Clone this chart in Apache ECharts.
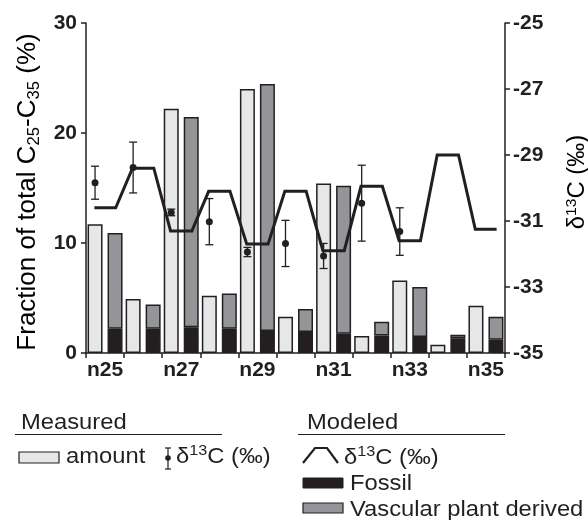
<!DOCTYPE html>
<html>
<head>
<meta charset="utf-8">
<script src="https://cdn.jsdelivr.net/npm/echarts@6/dist/echarts.min.js"></script>
<style>
html,body{margin:0;padding:0;background:#fff;}
#chart{width:588px;height:520px;}
</style>
</head>
<body>
<div id="chart"></div>
<script>
// ---- data ----
const categories = ['n25','n26','n27','n28','n29','n30','n31','n32','n33','n34','n35'];
const measuredAmount = [11.7, 4.9, 22.2, 5.2, 24.0, 3.3, 15.4, 1.55, 6.6, 0.75, 4.3];
const modeledFossil = [2.2, 2.2, 2.35, 2.2, 2.0, 1.9, 1.75, 1.6, 1.45, 1.35, 1.2];
const modeledVascular = [8.7, 2.2, 19.1, 3.2, 22.45, 2.1, 13.45, 1.25, 4.55, 0.3, 2.1];
const modeledD13C = [-30.6, -29.4, -31.3, -30.1, -31.7, -30.1, -31.9, -29.95, -31.6, -29.0, -31.25];
const measuredD13C = [-29.84, -29.38, -30.74, -31.02, -31.94, -31.68, -32.06, -30.46, -31.32, null, null];
const measuredD13CErr = [0.5, 0.77, 0.1, 0.7, 0.14, 0.7, 0.38, 1.15, 0.72, null, null];
const leftAxis = {min: 0, max: 30, interval: 10};
const rightAxis = {min: -35, max: -25, interval: 2};

// ---- styles ----
const FONT = 'Liberation Sans, Arial, sans-serif';
const INK = '#231f20';
const LIGHT = '#e6e7e8';
const GRAY = '#939598';
const BAR_W = 15;
const BAR_GAP_PX = 5;
const FLAT_HALF = 0.28;

const chart = echarts.init(document.getElementById('chart'), null, {renderer: 'canvas'});

const lineData = [];
modeledD13C.forEach((v, i) => {
  lineData.push([i + 0.5 - FLAT_HALF, v]);
  lineData.push([i + 0.5 + FLAT_HALF, v]);
});
const errData = [];
measuredD13C.forEach((v, i) => {
  if (v != null) errData.push([i, v, measuredD13CErr[i]]);
});

const barStyle = (c) => ({color: c, borderColor: INK, borderWidth: 1.5});
const tickLabel = {fontFamily: FONT, fontWeight: 'bold', fontSize: 21, color: INK};

function legendText(x, y, text, rich) {
  return {type: 'text', x: x, y: y, scaleX: 1.08, z: 10,
    style: {text: text, font: '22px ' + FONT, fill: INK,
    align: 'left', verticalAlign: 'middle', rich: rich}};
}
const supRich = {
  m: {fontSize: 22, fontFamily: FONT, color: INK, lineHeight: 26},
  s: {fontSize: 15, fontFamily: FONT, color: INK, lineHeight: 15, verticalAlign: 'top'}
};

const option = {
  animation: false,
  backgroundColor: '#fff',
  grid: {left: 86, right: 83, top: 23, bottom: 167, containLabel: false},
  xAxis: [{
    type: 'category', data: categories, gridIndex: 0,
    axisLine: {lineStyle: {color: INK, width: 1.5}},
    axisTick: {show: true, interval: 0, length: 5, lineStyle: {color: INK, width: 1.5}},
    axisLabel: Object.assign({interval: 1, margin: 7}, tickLabel),
    splitLine: {show: false}
  }, {
    type: 'value', min: 0, max: categories.length, show: false, gridIndex: 0
  }],
  yAxis: [{
    type: 'value', position: 'left', min: leftAxis.min, max: leftAxis.max, interval: leftAxis.interval,
    axisLine: {show: true, lineStyle: {color: INK, width: 1.5}},
    axisTick: {show: true, length: 5, lineStyle: {color: INK, width: 1.5}},
    axisLabel: Object.assign({margin: 9}, tickLabel),
    splitLine: {show: false}
  }, {
    type: 'value', position: 'right', min: rightAxis.min, max: rightAxis.max, interval: rightAxis.interval,
    axisLine: {show: true, lineStyle: {color: INK, width: 1.5}},
    axisTick: {show: true, length: 5, lineStyle: {color: INK, width: 1.5}},
    axisLabel: Object.assign({margin: 8}, tickLabel),
    splitLine: {show: false}
  }],
  series: [{
    name: 'amount', type: 'bar', xAxisIndex: 0, yAxisIndex: 0,
    data: measuredAmount, barWidth: BAR_W, barGap: (BAR_GAP_PX / BAR_W * 100) + '%',
    itemStyle: barStyle(LIGHT)
  }, {
    name: 'Fossil', type: 'bar', stack: 'model', xAxisIndex: 0, yAxisIndex: 0,
    data: modeledFossil, barWidth: BAR_W, barGap: (BAR_GAP_PX / BAR_W * 100) + '%',
    itemStyle: barStyle(INK)
  }, {
    name: 'Vascular plant derived', type: 'bar', stack: 'model', xAxisIndex: 0, yAxisIndex: 0,
    data: modeledVascular, barWidth: BAR_W, barGap: (BAR_GAP_PX / BAR_W * 100) + '%',
    itemStyle: barStyle(GRAY)
  }, {
    name: 'modeled d13C', type: 'line', xAxisIndex: 1, yAxisIndex: 1,
    data: lineData, symbol: 'none', z: 5,
    lineStyle: {color: INK, width: 3, join: 'miter'}
  }, {
    name: 'measured d13C', type: 'custom', xAxisIndex: 0, yAxisIndex: 1, z: 6,
    data: errData, encode: {x: 0, y: 1},
    renderItem: function (params, api) {
      const idx = api.value(0), v = api.value(1), e = api.value(2);
      const c = api.coord([idx, v]);
      const x = c[0] - (BAR_W + BAR_GAP_PX) / 2;
      const yt = api.coord([idx, v + e])[1];
      const yb = api.coord([idx, v - e])[1];
      const ls = {stroke: INK, lineWidth: 1.3};
      return {type: 'group', children: [
        {type: 'line', shape: {x1: x, y1: yt, x2: x, y2: yb}, style: ls},
        {type: 'line', shape: {x1: x - 4, y1: yt, x2: x + 4, y2: yt}, style: ls},
        {type: 'line', shape: {x1: x - 4, y1: yb, x2: x + 4, y2: yb}, style: ls},
        {type: 'circle', shape: {cx: x, cy: c[1], r: 3.5}, style: {fill: INK}}
      ]};
    }
  }],
  graphic: [
    // axis titles
    {type: 'text', x: 28, y: 192, rotation: Math.PI / 2, scaleX: 1.04,
      style: {text: '{m|Fraction of total C}{b|25}{m|-C}{b|35}{m| (%)}', align: 'center', verticalAlign: 'middle',
        rich: {
          m: {fontSize: 25, fontFamily: FONT, color: INK, lineHeight: 30},
          b: {fontSize: 16, fontFamily: FONT, color: INK, lineHeight: 16, verticalAlign: 'bottom'}
        }}},
    {type: 'text', x: 578, y: 182, rotation: Math.PI / 2, scaleX: 1.04,
      style: {text: '{m|δ}{s|13}{m|C (‰)}', align: 'center', verticalAlign: 'middle',
        rich: {
          m: {fontSize: 23, fontFamily: FONT, color: INK, lineHeight: 27},
          s: {fontSize: 15, fontFamily: FONT, color: INK, lineHeight: 15, verticalAlign: 'top'}
        }}},
    // legend
    legendText(21, 422.5, 'Measured'),
    {type: 'line', shape: {x1: 15, y1: 434.5, x2: 222, y2: 434.5}, style: {stroke: INK, lineWidth: 1.2}},
    legendText(307, 422.5, 'Modeled'),
    {type: 'line', shape: {x1: 298, y1: 434.5, x2: 505, y2: 434.5}, style: {stroke: INK, lineWidth: 1.2}},
    {type: 'rect', shape: {x: 19, y: 452, width: 40, height: 11}, style: {fill: LIGHT, stroke: INK, lineWidth: 1.2}},
    legendText(66, 456.5, 'amount'),
    {type: 'line', shape: {x1: 168, y1: 448, x2: 168, y2: 469}, style: {stroke: INK, lineWidth: 1.2}},
    {type: 'line', shape: {x1: 165, y1: 448, x2: 171, y2: 448}, style: {stroke: INK, lineWidth: 1.2}},
    {type: 'line', shape: {x1: 165, y1: 469, x2: 171, y2: 469}, style: {stroke: INK, lineWidth: 1.2}},
    {type: 'circle', shape: {cx: 168, cy: 458, r: 2.8}, style: {fill: INK}},
    legendText(176, 456.5, '{m|δ}{s|13}{m|C (‰)}', supRich),
    {type: 'polyline', shape: {points: [[303, 463], [315, 448], [327, 448], [338, 463]]}, style: {stroke: INK, lineWidth: 2.2, fill: null}},
    legendText(344, 457.5, '{m|δ}{s|13}{m|C (‰)}', supRich),
    {type: 'rect', shape: {x: 303, y: 478, width: 40, height: 10}, style: {fill: INK, stroke: INK, lineWidth: 1}},
    legendText(350, 484, 'Fossil'),
    {type: 'rect', shape: {x: 303, y: 503, width: 40, height: 10}, style: {fill: GRAY, stroke: INK, lineWidth: 1.2}},
    legendText(350, 509.5, 'Vascular plant derived')
  ]
};
chart.setOption(option);
</script>
</body>
</html>
